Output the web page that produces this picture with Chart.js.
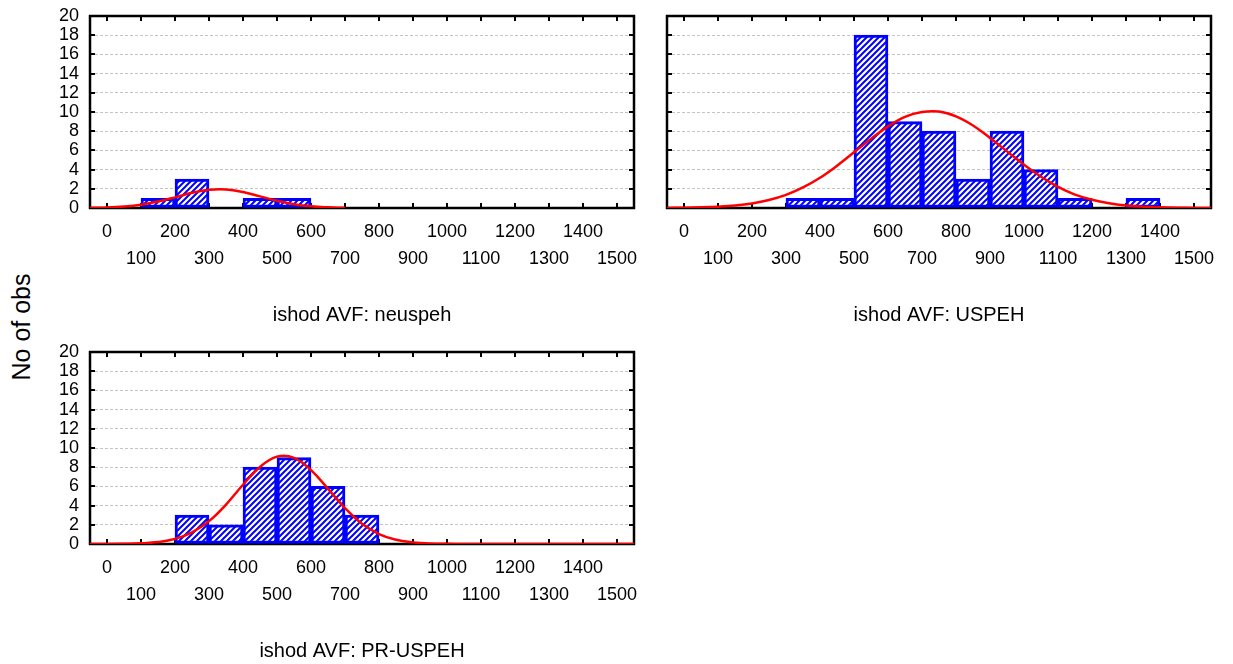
<!DOCTYPE html>
<html>
<head>
<meta charset="utf-8">
<script src="https://cdn.jsdelivr.net/npm/chart.js@4.4.1/dist/chart.umd.min.js"></script>
<style>
  body { margin: 0; background: #fff; width: 1233px; height: 664px; overflow: hidden; position: relative; }
  canvas { position: absolute; }
  #ylab { position: absolute; left: -78px; top: 312px; width: 200px; height: 30px; line-height: 30px;
          text-align: center; font: 25px Arial, "Liberation Sans", sans-serif; color: #000; transform: rotate(-90deg); }
</style>
</head>
<body>
<div id="ylab">No of obs</div>
<canvas id="c1" width="646" height="335" style="left:0;top:0"></canvas>
<canvas id="c2" width="593" height="335" style="left:640px;top:0"></canvas>
<canvas id="c3" width="646" height="335" style="left:0;top:336px"></canvas>
<script>
// tick labels
const xTicks = [0, 100, 200, 300, 400, 500, 600, 700, 800, 900, 1000, 1100, 1200, 1300, 1400, 1500]
const yTicks = [0, 2, 4, 6, 8, 10, 12, 14, 16, 18, 20]

// histogram bins (midpoints of 100-wide bins, 100-200 ... 1300-1400)
const binMids = [150, 250, 350, 450, 550, 650, 750, 850, 950, 1050, 1150, 1250, 1350]
const neuspehCounts = [1, 3, 0, 1, 1, 0, 0, 0, 0, 0, 0, 0, 0]
const uspehCounts   = [0, 0, 1, 1, 18, 9, 8, 3, 8, 4, 1, 0, 1]
const prUspehCounts = [0, 3, 2, 8, 9, 6, 3, 0, 0, 0, 0, 0, 0]

// red normal curves
const curveX = [-50, 0, 50, 100, 150, 200, 250, 300, 350, 400, 450, 500, 550, 600, 650, 700, 750,
                800, 850, 900, 950, 1000, 1050, 1100, 1150, 1200, 1250, 1300, 1350, 1400, 1450, 1500, 1550]
const neuspehCurve = [0.02, 0.05, 0.15, 0.34, 0.67, 1.11, 1.58, 1.89, 1.93, 1.66, 1.21, 0.75, 0.39, 0.17, 0.07, 0.02, null,
                      null, null, null, null, null, null, null, null, null, null, null, null, null, null, null, null]
const uspehCurve = [0.01, 0.03, 0.07, 0.14, 0.26, 0.48, 0.84, 1.37, 2.14, 3.15, 4.4, 5.8, 7.2, 8.5, 9.5, 10.0, 10.05,
                    9.55, 8.6, 7.3, 5.9, 4.5, 3.25, 2.2, 1.4, 0.86, 0.5, 0.27, 0.14, 0.07, 0.03, 0.01, 0]
const prUspehCurve = [0, 0, 0.02, 0.07, 0.2, 0.53, 1.21, 2.38, 4.11, 6.17, 8.03, 9.1, 8.98, 7.7, 5.75, 3.74, 2.1,
                      1.04, 0.44, 0.17, 0.05, 0.02, 0, 0, 0, 0, 0, 0, 0, 0, 0, 0, 0]

const FONT = 'Arial, "Liberation Sans", sans-serif'
const BLUE = '#0000ff'

function hatch() {
  const c = document.createElement('canvas')
  c.width = 6; c.height = 6
  const g = c.getContext('2d')
  g.fillStyle = '#fff'
  g.fillRect(0, 0, 6, 6)
  g.strokeStyle = BLUE
  g.lineWidth = 2
  g.beginPath()
  g.moveTo(-1, 7); g.lineTo(7, -1)
  g.moveTo(-4, 4); g.lineTo(4, -4)
  g.moveTo(2, 10); g.lineTo(10, 2)
  g.stroke()
  return g.createPattern(c, 'repeat')
}

// box around plot area + inward tick marks
const framePlugin = {
  id: 'frame',
  beforeDatasetsDraw(chart) {
    const {ctx, chartArea: a, scales: {x, y}} = chart
    ctx.save()
    ctx.strokeStyle = '#000'
    ctx.lineWidth = 2
    ctx.beginPath()
    xTicks.forEach(v => {
      const px = Math.round(x.getPixelForValue(v))
      ctx.moveTo(px, a.top); ctx.lineTo(px, a.top + 5)
      ctx.moveTo(px, a.bottom); ctx.lineTo(px, a.bottom - 5)
    })
    yTicks.forEach(v => {
      const py = Math.round(y.getPixelForValue(v))
      ctx.moveTo(a.left, py); ctx.lineTo(a.left + 5, py)
      ctx.moveTo(a.right, py); ctx.lineTo(a.right - 5, py)
    })
    ctx.stroke()
    ctx.lineWidth = 2.5
    ctx.strokeRect(a.left, a.top, a.right - a.left, a.bottom - a.top)
    ctx.restore()
  }
}

function makePanel(id, counts, curve, title, showY, yWidth, padRight) {
  const ctx = document.getElementById(id).getContext('2d')
  const bars = binMids.map((m, i) => ({x: m, y: counts[i]})).filter(p => p.y > 0)
  const line = curveX.map((v, i) => ({x: v, y: curve[i]}))
  return new Chart(ctx, {
    type: 'bar',
    data: {
      datasets: [
        {
          type: 'line', data: line, borderColor: '#ff0000', borderWidth: 2.5,
          pointRadius: 0, tension: 0.4, fill: false, order: 0, spanGaps: false
        },
        {
          type: 'bar', data: bars, backgroundColor: hatch(), borderColor: BLUE, borderWidth: 3,
          borderSkipped: false, barPercentage: 1, categoryPercentage: 1, order: 1
        }
      ]
    },
    options: {
      responsive: false,
      animation: false,
      devicePixelRatio: 1,
      layout: {padding: {top: 16, right: padRight, left: 0, bottom: 0}},
      plugins: {legend: {display: false}, tooltip: {enabled: false}},
      scales: {
        x: {
          type: 'linear', min: -50, max: 1550, offset: false,
          afterBuildTicks: s => { s.ticks = xTicks.map(v => ({value: v})) },
          afterFit: s => { s.height = 127; s.paddingLeft = 0; s.paddingRight = 0 },
          grid: {display: false, drawTicks: false, offset: false},
          border: {display: false},
          ticks: {
            autoSkip: false, maxRotation: 0, color: '#000', padding: 11,
            font: {family: FONT, size: 18, lineHeight: 1.47},
            callback: v => (v % 200 === 0 ? String(v) : ['', String(v)])
          },
          title: {
            display: true, text: title, color: '#000',
            font: {family: FONT, size: 20}, padding: {top: 0, bottom: 8}
          }
        },
        y: {
          min: 0, max: 20,
          afterBuildTicks: s => { s.ticks = yTicks.map(v => ({value: v})) },
          afterFit: s => { s.width = yWidth; s.paddingTop = 0; s.paddingBottom = 0 },
          grid: {color: '#c4c4c4', lineWidth: 1, drawTicks: false},
          border: {display: false, dash: [3, 2]},
          ticks: {
            display: showY, autoSkip: false, color: '#000', padding: 11,
            font: {family: FONT, size: 18, lineHeight: 1}
          }
        }
      }
    },
    plugins: [framePlugin]
  })
}

makePanel('c1', neuspehCounts, neuspehCurve, 'ishod AVF: neuspeh', true, 90, 12)
makePanel('c2', uspehCounts, uspehCurve, 'ishod AVF: USPEH', false, 27, 22)
makePanel('c3', prUspehCounts, prUspehCurve, 'ishod AVF: PR-USPEH', true, 90, 12)
</script>
</body>
</html>
